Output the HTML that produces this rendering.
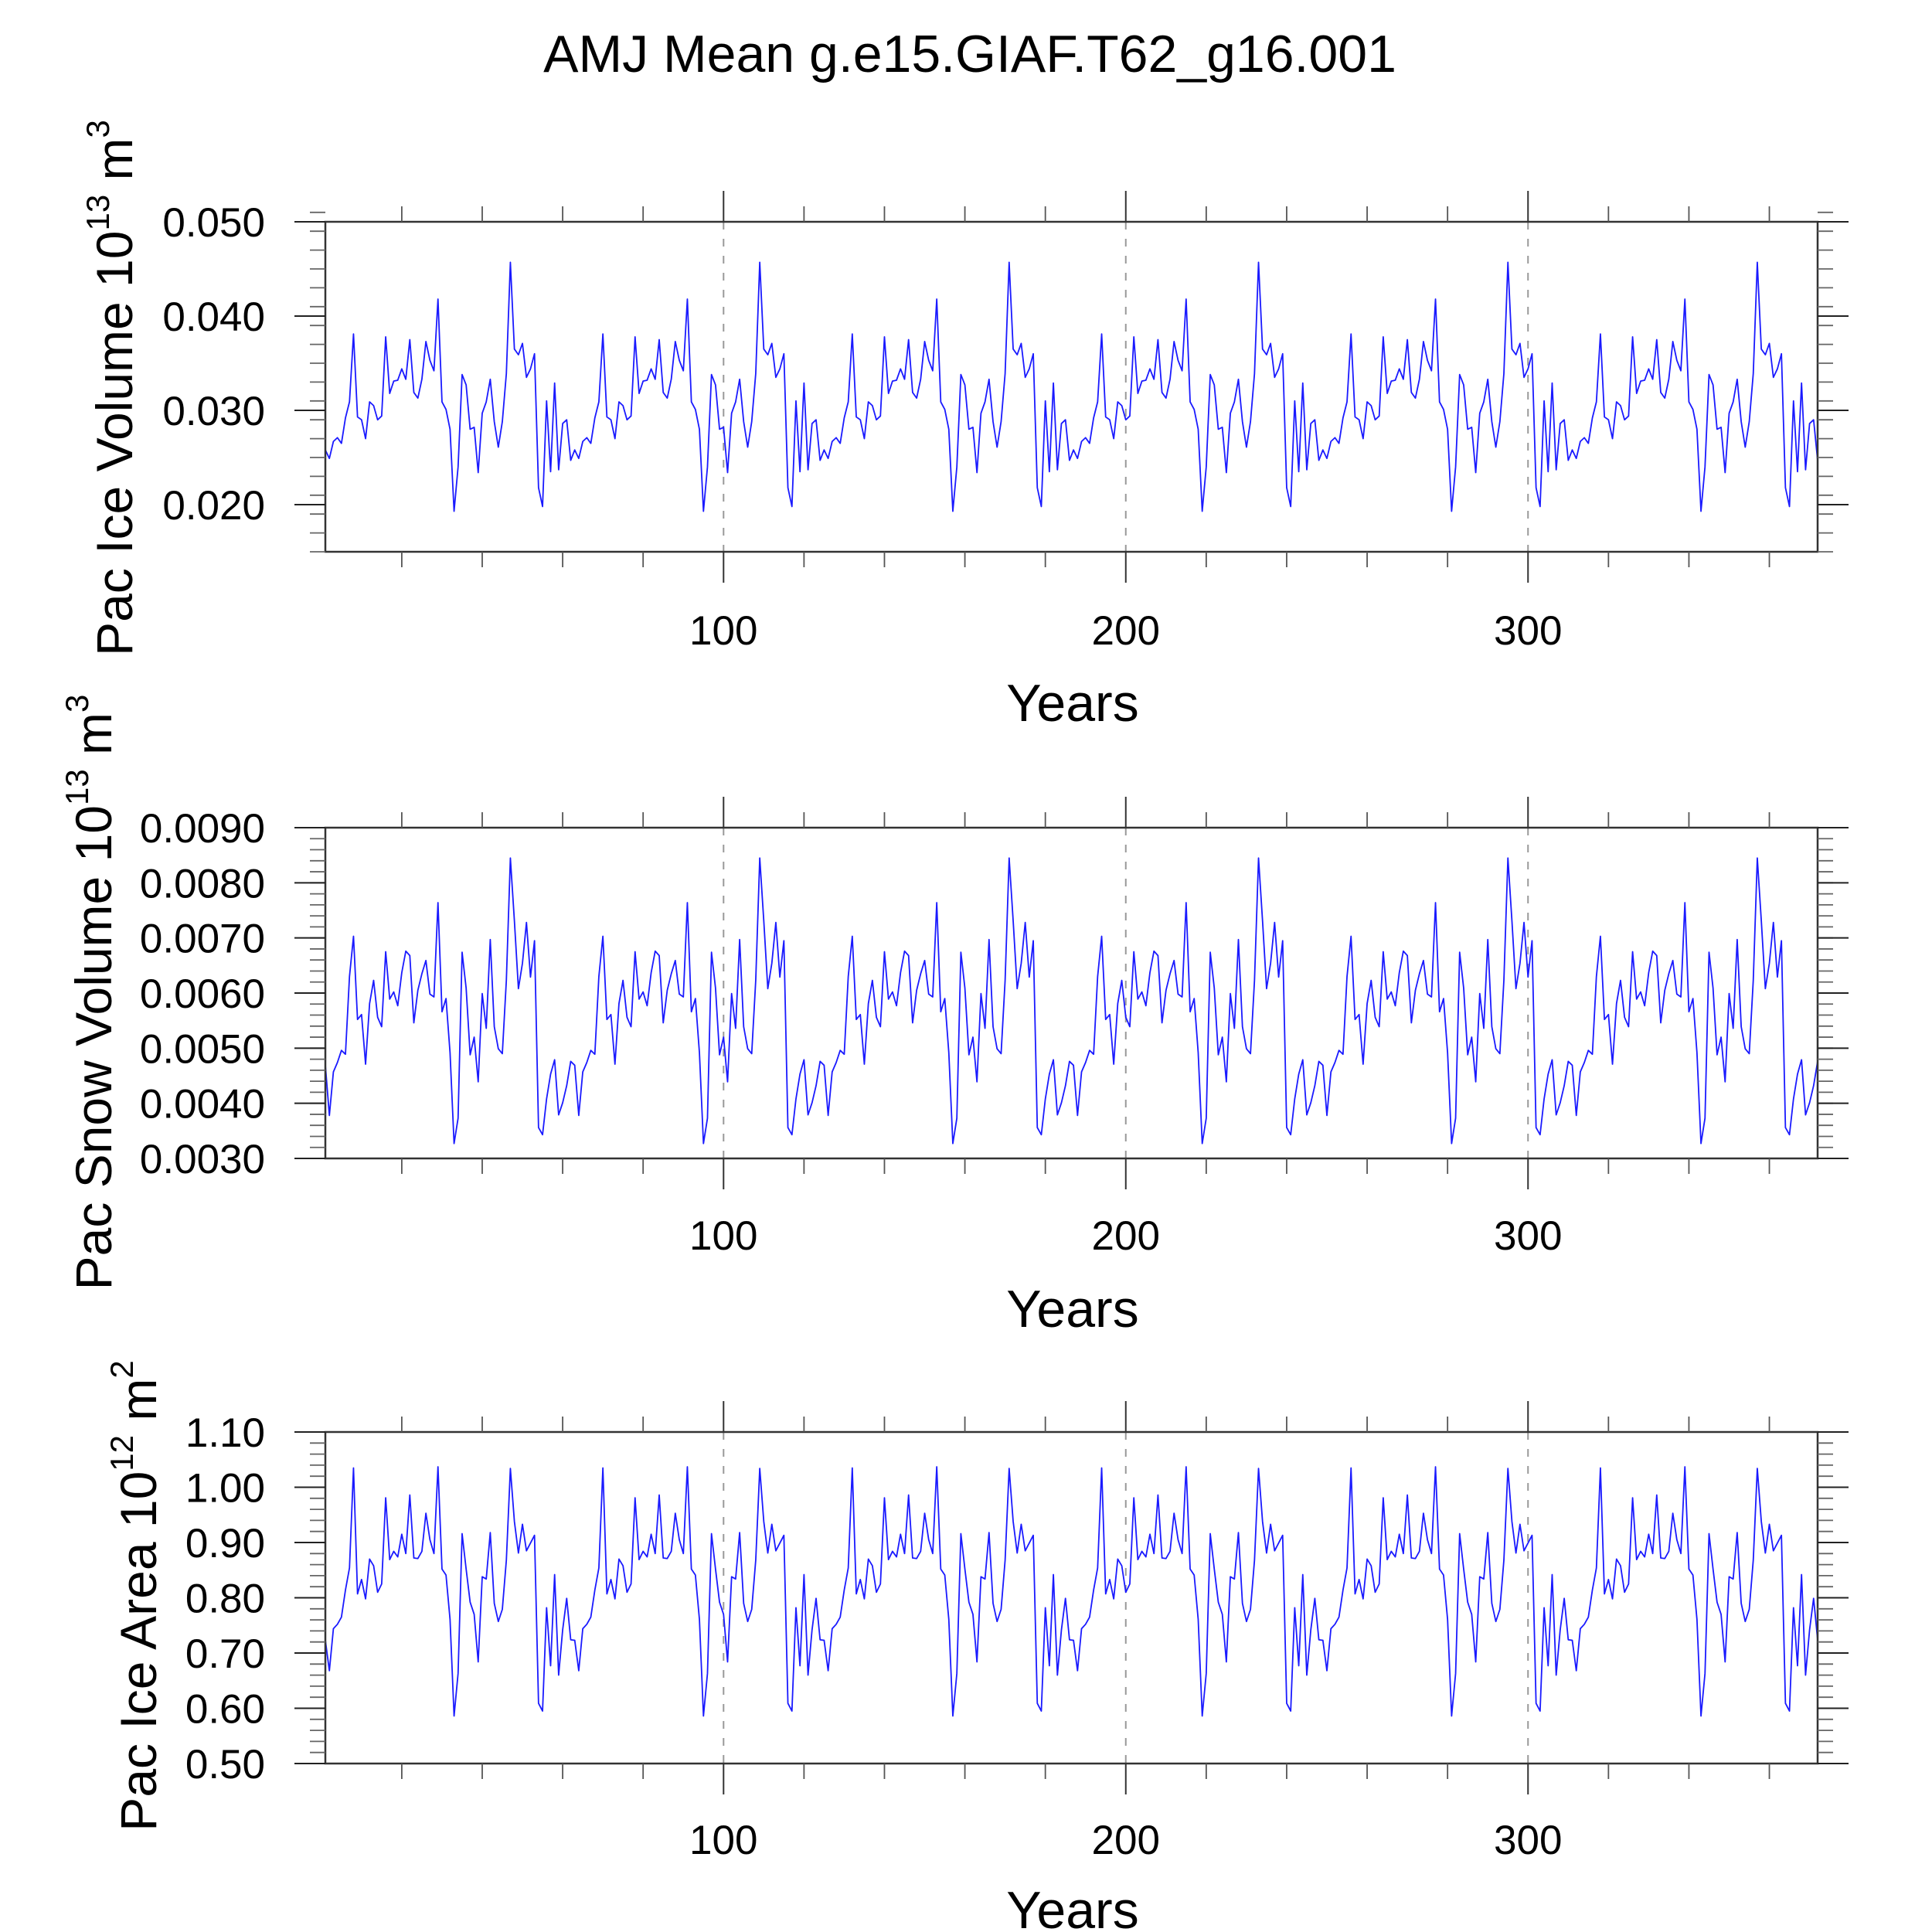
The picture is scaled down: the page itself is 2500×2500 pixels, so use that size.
<!DOCTYPE html>
<html><head><meta charset="utf-8">
<style>
html,body{margin:0;padding:0;background:#fff;}
svg{display:block;font-family:"Liberation Sans",sans-serif;}
</style></head>
<body>
<svg id="chart" width="2500" height="2500" viewBox="0 0 2500 2500" xmlns="http://www.w3.org/2000/svg">
<rect width="2500" height="2500" fill="#fff"/>
<text x="1255" y="93" font-size="68" text-anchor="middle">AMJ Mean g.e15.GIAF.T62_g16.001</text>
</svg>
<script>
// one 62-year forcing cycle; the run repeats it 6 times
const iceVolCycle = [0.0258,0.0249,0.0267,0.0271,0.0265,0.0292,0.0309,0.0381,0.0293,0.0290,0.0270,0.0309,0.0305,0.0290,0.0294,0.0378,0.0318,0.0331,0.0332,0.0344,0.0333,0.0375,0.0319,0.0313,0.0333,0.0373,0.0353,0.0342,0.0418,0.0309,0.0301,0.0280,0.0193,0.0240,0.0338,0.0327,0.0280,0.0282,0.0234,0.0297,0.0309,0.0333,0.0288,0.0261,0.0288,0.0339,0.0457,0.0365,0.0359,0.0371,0.0335,0.0344,0.0360,0.0218,0.0198,0.0310,0.0235,0.0329,0.0237,0.0286,0.0290,0.0247];
const snowVolCycle = [0.00469,0.00378,0.00457,0.00474,0.00496,0.00489,0.00630,0.00703,0.00552,0.00561,0.00471,0.00581,0.00623,0.00556,0.00539,0.00675,0.00589,0.00602,0.00577,0.00637,0.00676,0.00668,0.00546,0.00605,0.00635,0.00659,0.00598,0.00593,0.00764,0.00566,0.00590,0.00492,0.00327,0.00373,0.00674,0.00609,0.00488,0.00520,0.00439,0.00599,0.00536,0.00697,0.00539,0.00499,0.00490,0.00623,0.00845,0.00731,0.00608,0.00654,0.00728,0.00629,0.00695,0.00356,0.00343,0.00408,0.00453,0.00479,0.00379,0.00401,0.00432,0.00476];
const iceAreaCycle = [0.723,0.668,0.744,0.752,0.765,0.814,0.854,1.035,0.807,0.833,0.798,0.870,0.858,0.810,0.825,0.981,0.869,0.884,0.874,0.915,0.880,0.986,0.872,0.871,0.884,0.953,0.905,0.880,1.037,0.852,0.841,0.761,0.586,0.663,0.916,0.852,0.792,0.770,0.684,0.838,0.834,0.918,0.790,0.757,0.779,0.868,1.034,0.938,0.881,0.933,0.885,0.899,0.913,0.609,0.595,0.782,0.677,0.842,0.660,0.742,0.799,0.724];
const iceVol = [...iceVolCycle,...iceVolCycle,...iceVolCycle,...iceVolCycle,...iceVolCycle,...iceVolCycle];
const snowVol = [...snowVolCycle,...snowVolCycle,...snowVolCycle,...snowVolCycle,...snowVolCycle,...snowVolCycle];
const iceArea = [...iceAreaCycle,...iceAreaCycle,...iceAreaCycle,...iceAreaCycle,...iceAreaCycle,...iceAreaCycle];
const xMajorTicks = [100,200,300];
const xMajorLabels = ["100","200","300"];
const xMinorTicks = [20,40,60,80,120,140,160,180,220,240,260,280,320,340,360];
const yTicks1 = [0.020,0.030,0.040,0.050];
const yLabels1 = ["0.020","0.030","0.040","0.050"];
const yTicks2 = [0.003,0.004,0.005,0.006,0.007,0.008,0.009];
const yLabels2 = ["0.0030","0.0040","0.0050","0.0060","0.0070","0.0080","0.0090"];
const yTicks3 = [0.5,0.6,0.7,0.8,0.9,1.0,1.1];
const yLabels3 = ["0.50","0.60","0.70","0.80","0.90","1.00","1.10"];

const NS = "http://www.w3.org/2000/svg";
const svg = document.getElementById('chart');
function mk(tag, attrs, parent){
  const e = document.createElementNS(NS, tag);
  for (const k in attrs) e.setAttribute(k, attrs[k]);
  (parent||svg).appendChild(e);
  return e;
}
const X0 = 421, X1 = 2352, YEAR0 = 1, YEAR1 = 372;
function xScale(yr){ return X0 + (yr - YEAR0) / (YEAR1 - YEAR0) * (X1 - X0); }

const panels = [
  {name:'ice-volume', data:iceVol, top:287, bot:714, ymin:0.015, ymax:0.050, ticks:yTicks1, labels:yLabels1, minorStep:0.002,
   title:['Pac Ice Volume 10','13',' m','3'], tx:147, ty:502, xlabY:815, yearsY:909},
  {name:'snow-volume', data:snowVol, top:1071, bot:1499, ymin:0.003, ymax:0.009, ticks:yTicks2, labels:yLabels2, minorStep:0.0002,
   title:['Pac Snow Volume 10','13',' m','3'], tx:120, ty:1284, xlabY:1598, yearsY:1693},
  {name:'ice-area', data:iceArea, top:1853, bot:2282, ymin:0.5, ymax:1.1, ticks:yTicks3, labels:yLabels3, minorStep:0.02,
   title:['Pac Ice Area 10','12',' m','2'], tx:178, ty:2065, xlabY:2380, yearsY:2471}
];

panels.forEach(p => {
  const g = mk('g', {});
  
  
  const yScale = v => p.bot - (v - p.ymin) / (p.ymax - p.ymin) * (p.bot - p.top);
  // grid
  xMajorTicks.forEach(t => {
    const l = mk('line', {x1:xScale(t), x2:xScale(t), y1:p.top, y2:p.bot, stroke:'#999', 'stroke-width':2, 'stroke-dasharray':'10,12'}, g);
    
    
  });
  // series
  const pts = p.data.map((v,i) => xScale(i+1).toFixed(2) + ',' + yScale(v).toFixed(2)).join(' ');
  const line = mk('polyline', {points:pts, fill:'none', stroke:'#1a1aff', 'stroke-width':1.8, 'stroke-linejoin':'round'}, g);
  
  
  // frame
  const fr = mk('rect', {x:X0, y:p.top, width:X1-X0, height:p.bot-p.top, fill:'none', stroke:'#333', 'stroke-width':2.5}, g);
  
  
  // x ticks
  xMajorTicks.forEach((t,i) => {
    const x = xScale(t);
    mk('line', {x1:x, x2:x, y1:p.top, y2:p.top-40, stroke:'#333', 'stroke-width':2}, g);
    mk('line', {x1:x, x2:x, y1:p.bot, y2:p.bot+40, stroke:'#333', 'stroke-width':2}, g);
    const tl = mk('text', {x:x, y:p.xlabY+19, 'font-size':53, 'text-anchor':'middle'}, g);
    tl.textContent = xMajorLabels[i];
    
    
  });
  xMinorTicks.forEach(t => {
    const x = xScale(t);
    mk('line', {x1:x, x2:x, y1:p.top, y2:p.top-20, stroke:'#555', 'stroke-width':1.8}, g);
    mk('line', {x1:x, x2:x, y1:p.bot, y2:p.bot+20, stroke:'#555', 'stroke-width':1.8}, g);
  });
  // y ticks
  const nMinor = Math.round((p.ymax - p.ymin) / p.minorStep);
  for (let k = 0; k <= nMinor; k++) {
    const y = yScale(p.ymin + k * p.minorStep);
    mk('line', {x1:X0, x2:X0-20, y1:y, y2:y, stroke:'#666', 'stroke-width':1.8}, g);
    mk('line', {x1:X1, x2:X1+20, y1:y, y2:y, stroke:'#666', 'stroke-width':1.8}, g);
  }
  p.ticks.forEach((t,i) => {
    const y = yScale(t);
    mk('line', {x1:X0, x2:X0-40, y1:y, y2:y, stroke:'#222', 'stroke-width':2}, g);
    mk('line', {x1:X1, x2:X1+40, y1:y, y2:y, stroke:'#222', 'stroke-width':2}, g);
    const tl = mk('text', {x:343, y:y+19, 'font-size':53, 'text-anchor':'end'}, g);
    tl.textContent = p.labels[i];
    
    
  });
  // x axis title
  const xt = mk('text', {x:1388, y:p.yearsY+24, 'font-size':68, 'text-anchor':'middle'}, g);
  xt.textContent = 'Years';
  
  
  // y axis title
  const yt = mk('text', {x:0, y:0, 'font-size':66, 'text-anchor':'middle', transform:'translate(' + (p.tx+24) + ',' + p.ty + ') rotate(-90)'}, g);
  
  
  const s1 = mk('tspan', {}, yt); s1.textContent = p.title[0];
  const s2 = mk('tspan', {dy:-30, 'font-size':42}, yt); s2.textContent = p.title[1];
  const s3 = mk('tspan', {dy:30}, yt); s3.textContent = p.title[2];
  const s4 = mk('tspan', {dy:-30, 'font-size':42}, yt); s4.textContent = p.title[3];
});
</script>
</body></html>
